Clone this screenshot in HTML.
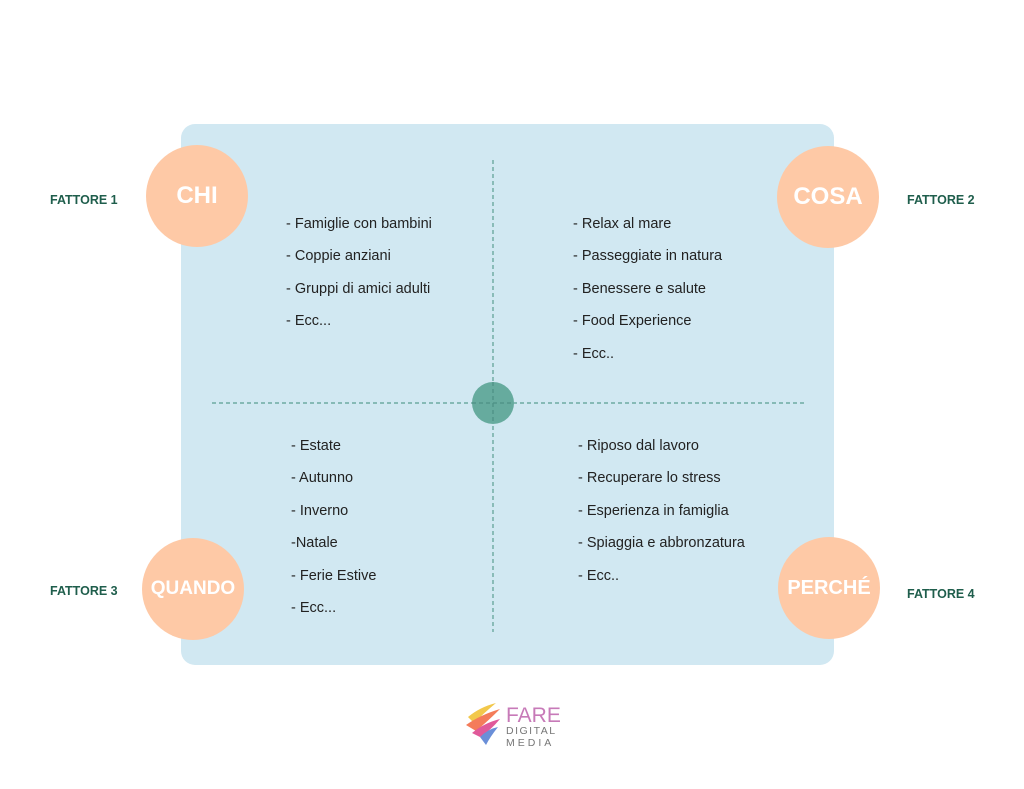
<!DOCTYPE html>
<html><head><meta charset="utf-8"><style>
body{margin:0;width:1024px;height:789px;background:#fff;position:relative;overflow:hidden;font-family:"Liberation Sans",sans-serif}
.box{position:absolute;left:181px;top:124px;width:653px;height:541px;background:#d1e8f2;border-radius:14px}
.c{position:absolute;width:102px;height:102px;border-radius:50%;background:#fec9a6;color:#fff;font-weight:bold;display:flex;align-items:center;justify-content:center;font-size:24px}
.f{position:absolute;color:#1f5e4c;font-weight:bold;font-size:12.5px}
.l{position:absolute;color:#222;font-size:14.5px;line-height:32.4px;white-space:nowrap}
</style></head><body>
<div class="box"></div>
<svg style="position:absolute;left:0;top:0" width="1024" height="789">
<line x1="493" y1="160" x2="493" y2="632" stroke="#5a9e92" stroke-width="1.2" stroke-dasharray="4,3"/>
<line x1="212" y1="403" x2="806" y2="403" stroke="#5a9e92" stroke-width="1.2" stroke-dasharray="4,3"/>
<circle cx="493" cy="403" r="21" fill="#66ab9e"/>
<line x1="493" y1="382" x2="493" y2="424" stroke="#4d9084" stroke-width="1.2" stroke-dasharray="4,3"/>
<line x1="472" y1="403" x2="514" y2="403" stroke="#4d9084" stroke-width="1.2" stroke-dasharray="4,3"/>
<g transform="translate(466,703)">
<path d="M2 14 Q14 4 30 0 Q18 10 8 20Z" fill="#f2c84b"/>
<path d="M0 22 Q14 12 34 6 Q22 18 10 28Z" fill="#f47c5a"/>
<path d="M6 30 Q18 20 34 16 Q24 28 14 34Z" fill="#e05a9a"/>
<path d="M14 34 Q22 26 32 24 Q24 34 20 42Z" fill="#6a8fd8"/>
</g>
<text x="506" y="722" font-family="Liberation Sans" font-size="21" fill="#c77ab8">FARE</text>
<text x="506" y="734" font-family="Liberation Sans" font-size="10.5" fill="#777" letter-spacing="1.5">DIGITAL</text>
<text x="506" y="746" font-family="Liberation Sans" font-size="10.5" fill="#777" letter-spacing="3">MEDIA</text>
</svg>
<div class="c" style="left:146px;top:145px">CHI</div>
<div class="c" style="left:777px;top:146px">COSA</div>
<div class="c" style="left:142px;top:538px;font-size:19px">QUANDO</div>
<div class="c" style="left:778px;top:537px;font-size:20px">PERCHÉ</div>
<div class="f" style="left:50px;top:193px">FATTORE 1</div>
<div class="f" style="left:907px;top:193px">FATTORE 2</div>
<div class="f" style="left:50px;top:584px">FATTORE 3</div>
<div class="f" style="left:907px;top:587px">FATTORE 4</div>
<div class="l" style="left:286px;top:208px">- Famiglie con bambini<br>- Coppie anziani<br>- Gruppi di amici adulti<br>- Ecc...</div>
<div class="l" style="left:573px;top:208px">- Relax al mare<br>- Passeggiate in natura<br>- Benessere e salute<br>- Food Experience<br>- Ecc..</div>
<div class="l" style="left:291px;top:430px">- Estate<br>- Autunno<br>- Inverno<br>-Natale<br>- Ferie Estive<br>- Ecc...</div>
<div class="l" style="left:578px;top:430px">- Riposo dal lavoro<br>- Recuperare lo stress<br>- Esperienza in famiglia<br>- Spiaggia e abbronzatura<br>- Ecc..</div>
</body></html>
